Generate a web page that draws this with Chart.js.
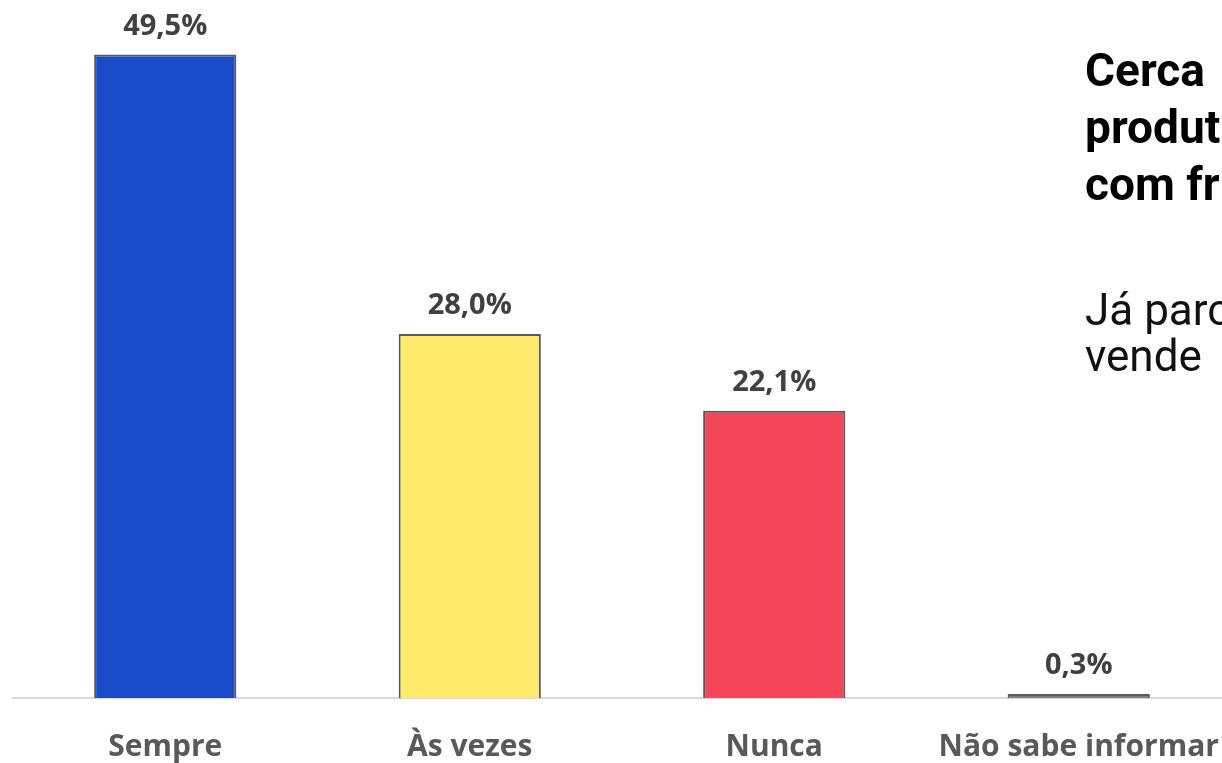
<!DOCTYPE html>
<html>
<head>
<meta charset="utf-8">
<script src="https://cdn.jsdelivr.net/npm/chart.js@4"></script>
<style>
  html, body { margin: 0; padding: 0; background: #fff; overflow: hidden; }
  #wrap { position: relative; width: 1222px; height: 763px; overflow: hidden; }
  #chart { position: absolute; left: 0; top: 0; }
  #note { position: absolute; left: 1085px; top: 42px; font-family: Roboto, sans-serif; white-space: nowrap; }
  #note .lead { font-weight: 700; font-size: 46px; line-height: 57px; color: #000; }
  #note .sub { font-weight: 400; font-size: 44px; line-height: 46px; color: #111; margin-top: 74px; }
</style>
</head>
<body>
<div id="wrap">
  <canvas id="chart" width="1251" height="796"></canvas>
  <div id="note">
    <div class="lead">Cerca<br>produt<br>com fr</div>
    <div class="sub">Já parc<br>vende</div>
  </div>
</div>
<script>
const categories = ["Sempre", "Às vezes", "Nunca", "Não sabe informar"];
const values = [49.5, 28.0, 22.1, 0.3];
const barColors = ["#1a4bc9", "#ffe96b", "#f4465b", "#7f7f7f"];

function fmt(v) {
  return v.toFixed(1).replace(".", ",") + "%";
}

// value labels above each bar
const valueLabels = {
  id: "valueLabels",
  afterDatasetsDraw(chart) {
    const ctx = chart.ctx;
    const meta = chart.getDatasetMeta(0);
    ctx.save();
    ctx.font = "bold 29px 'Open Sans'";
    ctx.fillStyle = "#404040";
    ctx.textAlign = "center";
    ctx.textBaseline = "alphabetic";
    meta.data.forEach((bar, i) => {
      ctx.fillText(fmt(values[i]), bar.x, bar.y - 20);
    });
    ctx.restore();
  }
};

new Chart(document.getElementById("chart"), {
  type: "bar",
  data: {
    labels: categories,
    datasets: [{
      data: values,
      backgroundColor: barColors,
      borderColor: "#595959",
      borderWidth: 2,
      barPercentage: 0.467,
      categoryPercentage: 1
    }]
  },
  options: {
    responsive: false,
    animation: false,
    layout: { padding: { left: 13, right: 9, top: 0, bottom: 0 } },
    plugins: { legend: { display: false }, tooltip: { enabled: false } },
    scales: {
      y: { display: false, min: 0, max: 53.7 },
      x: {
        grid: { display: false, drawTicks: false },
        border: { display: true, color: "#d9d9d9", width: 2 },
        ticks: {
          padding: 31,
          color: "#595959",
          font: { family: "'Open Sans'", size: 30, weight: "bold" },
          maxRotation: 0,
          autoSkip: false
        }
      }
    }
  },
  plugins: [valueLabels]
});
</script>
</body>
</html>
